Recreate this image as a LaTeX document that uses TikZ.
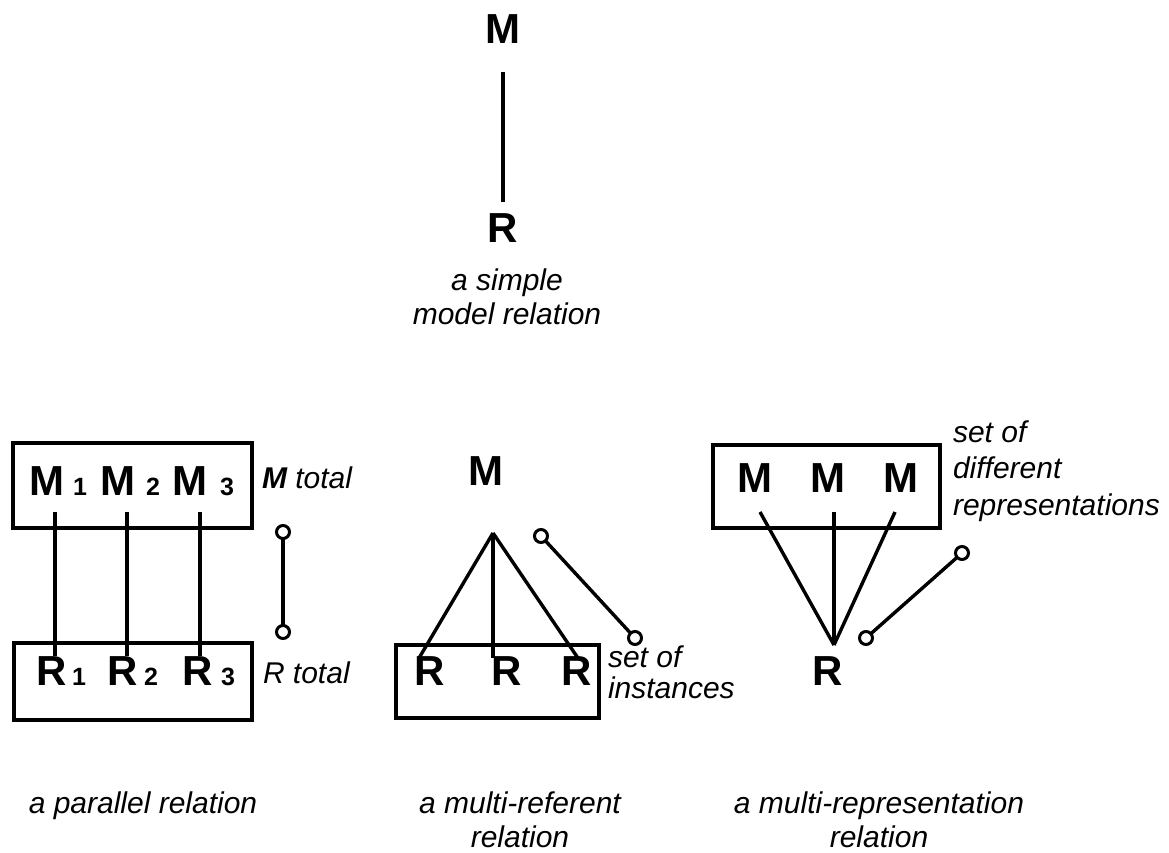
\documentclass[tikz,border=0pt]{standalone}
\usepackage{fontspec}
\setmainfont{Liberation Sans}
\begin{document}
\begin{tikzpicture}[x=1pt,y=-1pt,
  every node/.style={inner sep=0pt, outer sep=0pt},
  big/.style={font=\fontsize{42}{42}\selectfont\bfseries, anchor=base},
  idx/.style={font=\fontsize{25}{25}\selectfont\bfseries, anchor=base},
  lbl/.style={font=\fontsize{30}{34}\selectfont\itshape, anchor=base west, align=left},
  captext/.style={font=\fontsize{30}{34}\selectfont\itshape, anchor=base, align=center},
  wire/.style={line width=3.4pt},
  boxline/.style={draw, line width=3.4pt},
  knob/.style={circle, draw, line width=3pt, minimum size=13pt, fill=white}
]
\useasboundingbox (0,0) rectangle (1169,852);

% ---- simple model relation ----
\node[big] (topM) at (503,43) {M};
\node[big] (topR) at (503,242) {R};
\draw[wire, shorten <=29pt, shorten >=11pt] (topM) -- (topR);
% multi-line nodes sit on the baseline of their last line
\node[captext] (capA) at (507,324) {a simple\\model relation};

% ---- parallel relation ----
\draw[boxline] (13,443) rectangle (252,528);
\draw[boxline] (14,643) rectangle (252,720);
\node[big] (m1) at (47,495) {M};
\node[big] (m2) at (118,495) {M};
\node[big] (m3) at (190,495) {M};
\node[idx] (m1i) at (80,495) {1};
\node[idx] (m2i) at (153,495) {2};
\node[idx] (m3i) at (227,495) {3};
\node[big] (r1) at (52,685) {R};
\node[big] (r2) at (123,685) {R};
\node[big] (r3) at (198,685) {R};
\node[idx] (r1i) at (79,685) {1};
\node[idx] (r2i) at (151,685) {2};
\node[idx] (r3i) at (228,685) {3};
\draw[wire] ([xshift=8pt,yshift=-17pt]m1.south) -- ([xshift=3pt]r1.north);
\draw[wire] ([xshift=9pt,yshift=-17pt]m2.south) -- ([xshift=4pt]r2.north);
\draw[wire] ([xshift=10pt,yshift=-17pt]m3.south) -- ([xshift=2pt]r3.north);
\node[lbl] (mtot) at (262,488) {\textbf{M} total};
\node[lbl] (rtot) at (263,683) {R total};
\node[knob] (ka1) at (283,532) {};
\node[knob] (ka2) at (283,632) {};
\draw[wire] (ka1) -- (ka2);
\node[captext] (capB) at (143,813) {a parallel relation};

% ---- multi-referent relation ----
\node[big] (mB) at (486,485) {M};
\coordinate (apexB) at (493,533);
\draw[boxline] (396,645) rectangle (599,718);
\node[big] (rB1) at (430,685) {R};
\node[big] (rB2) at (507,685) {R};
\node[big] (rB3) at (577,685) {R};
\draw[wire] (apexB) -- ([xshift=-11pt,yshift=-2pt]rB1.north);
\draw[wire] (apexB) -- ([xshift=-14pt,yshift=-2pt]rB2.north);
\draw[wire] (apexB) -- ([xshift=1pt,yshift=-2pt]rB3.north);
\node[knob] (kb1) at (541,536) {};
\node[knob] (kb2) at (635,638) {};
\draw[wire] (kb1) -- (kb2);
\node[lbl, font=\fontsize{30}{31}\selectfont\itshape] (setB) at (608,698) {set of\\instances};
\node[captext] (capC) at (520,847) {a multi-referent\\relation};

% ---- multi-representation relation ----
\draw[boxline] (713,445) rectangle (940,528);
\node[big] (mC1) at (755,492) {M};
\node[big] (mC2) at (828,492) {M};
\node[big] (mC3) at (901,492) {M};
\node[big] (rC) at (828,685) {R};
\coordinate (apexC) at (834,645);
\draw[wire] ([xshift=5pt,yshift=-20pt]mC1.south) -- (apexC);
\draw[wire] ([xshift=6pt,yshift=-20pt]mC2.south) -- (apexC);
\draw[wire] ([xshift=-6pt,yshift=-20pt]mC3.south) -- (apexC);
\node[knob] (kc1) at (962,553) {};
\node[knob] (kc2) at (866,638) {};
\draw[wire] (kc1) -- (kc2);
\node[lbl, font=\fontsize{30}{36.5}\selectfont\itshape] (setC) at (953,515) {set of\\different\\representations};
\node[captext] (capD) at (879,847) {a multi-representation\\relation};
\end{tikzpicture}
\end{document}
